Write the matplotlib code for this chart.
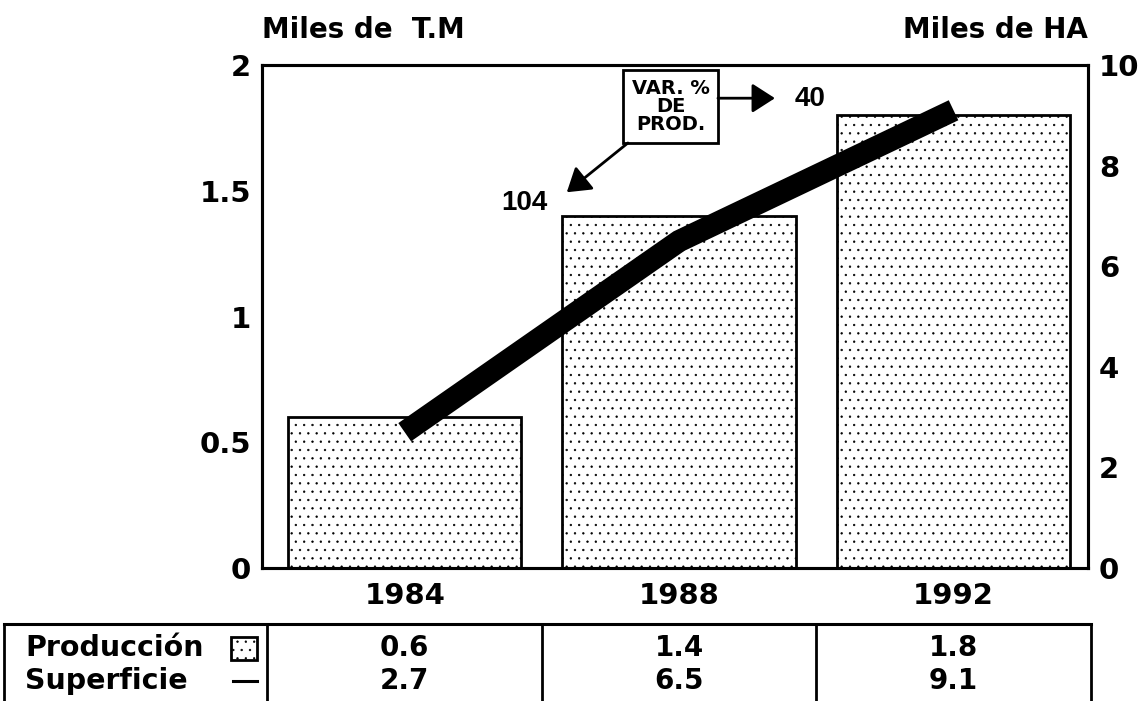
import matplotlib.pyplot as plt
from matplotlib.transforms import blended_transform_factory
from matplotlib.lines import Line2D
from matplotlib.patches import Rectangle

# data
years = ['1984', '1988', '1992']
produccion = [0.6, 1.4, 1.8]      # miles de T.M (left axis)
superficie = [2.7, 6.5, 9.1]      # miles de HA (right axis)
var_prod = ['104', '40']          # var. % de produccion

plt.rcParams['font.family'] = ['DejaVu Sans']
plt.rcParams['font.weight'] = 'bold'
plt.rcParams['hatch.linewidth'] = 0.45

W, H = 1141, 701
fig = plt.figure(figsize=(W / 100, H / 100), dpi=100)
ax = fig.add_axes([262 / W, 1 - 568 / H, 826 / W, 503 / H])
x = list(range(len(years)))

ax.bar(x, produccion, width=0.85, color='white', edgecolor='black',
       linewidth=2, hatch='..', zorder=2)
ax.set_xlim(-0.52, 2.49)
ax.set_ylim(0, 2)
ax.set_yticks([0, 0.5, 1, 1.5, 2])
ax.set_yticklabels(['0', '0.5', '1', '1.5', '2'])
ax.set_xticks(x)
ax.set_xticklabels(years)
ax.tick_params(axis='y', length=0, labelsize=21, pad=8)
ax.tick_params(axis='x', length=0, labelsize=21, pad=10)
for s in ax.spines.values():
    s.set_linewidth(2.2)

ax2 = ax.twinx()
ax2.plot(x, superficie, color='black', linewidth=16, solid_capstyle='butt',
         solid_joinstyle='miter', zorder=3)
ax2.set_ylim(0, 10)
ax2.set_yticks([0, 2, 4, 6, 8, 10])
ax2.tick_params(length=0, labelsize=21, pad=8)
for s in ax2.spines.values():
    s.set_linewidth(2.2)

# axis titles
ax.text(0, 1 + 35 / 503, 'Miles de  T.M', transform=ax.transAxes, fontsize=20,
        ha='left', va='center')
ax.text(1, 1 + 35 / 503, 'Miles de HA', transform=ax.transAxes, fontsize=20,
        ha='right', va='center')

# annotation box and arrows (axes fraction)
af = ax.transAxes
ax2.add_patch(Rectangle((0.437, 0.845), 0.115, 0.145, transform=af,
                        fc='white', ec='black', lw=2, zorder=5))
ax2.text(0.4945, 0.9175, 'VAR. %\nDE\nPROD.', transform=af, fontsize=14,
         ha='center', va='center', linespacing=0.95, zorder=6)
arrow = dict(arrowstyle='-|>,head_length=0.7,head_width=0.45', color='black',
             lw=2, mutation_scale=20, shrinkA=0, shrinkB=0)
ax2.annotate('', xy=(0.621, 0.934), xytext=(0.552, 0.934),
             xycoords='axes fraction', arrowprops=arrow, zorder=6)
ax2.text(0.645, 0.932, var_prod[1], transform=af, fontsize=20,
         family='Liberation Sans', ha='left', va='center')
ax2.annotate('', xy=(0.369, 0.747), xytext=(0.443, 0.845),
             xycoords='axes fraction', arrowprops=arrow, zorder=6)
ax2.text(0.318, 0.726, var_prod[0], transform=af, fontsize=20,
         family='Liberation Sans', ha='center', va='center')

# data table below the chart
tr = blended_transform_factory(ax.transData, fig.transFigure)
ft = fig.transFigure
y_top = 1 - 624 / H
y_row1 = 1 - 648 / H
y_row2 = 1 - 681 / H
left_edge = 4 / W

fig.canvas.draw()
xr = ax.transData.transform((len(years) - 0.5, 0))[0] / W
fig.add_artist(Line2D([left_edge, left_edge], [0, y_top], transform=ft,
                      color='black', lw=2))
fig.add_artist(Line2D([left_edge, xr], [y_top, y_top], transform=ft,
                      color='black', lw=2.2))
for i in range(len(years) + 1):
    fig.add_artist(Line2D([i - 0.5, i - 0.5], [0, y_top], transform=tr,
                          color='black', lw=2))
for i in x:
    fig.text(i, y_row1, f'{produccion[i]:.1f}', transform=tr, fontsize=20,
             ha='center', va='center')
    fig.text(i, y_row2, f'{superficie[i]:.1f}', transform=tr, fontsize=20,
             ha='center', va='center')

fig.text(25 / W, y_row1, 'Producción', fontsize=20.5, ha='left', va='center')
fig.text(25 / W, y_row2, 'Superficie', fontsize=20.5, ha='left', va='center')
fig.add_artist(Rectangle((231 / W, 1 - 660 / H), 26 / W, 23 / H,
                         transform=ft, fc='white', ec='black', lw=2,
                         hatch='..'))
fig.add_artist(Line2D([233 / W, 257 / W], [y_row2, y_row2],
                      transform=ft, color='black', lw=2.2))

fig.savefig('out.png', dpi=100)
